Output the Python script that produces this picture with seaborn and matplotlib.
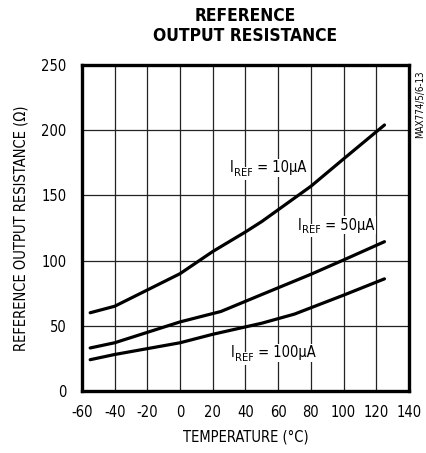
import pandas as pd
import seaborn as sns
import matplotlib.pyplot as plt
from matplotlib import font_manager

# valores
temp_10 = [-55, -40, 0, 20, 40, 50, 70, 80, 100, 125]
res_10 = [60, 65, 90, 107, 122, 130, 148, 157, 178, 204]
temp_50 = [-55, -40, 0, 25, 50, 80, 100, 125]
res_50 = [33, 37, 53, 61, 74, 89.5, 100.5, 114.5]
temp_100 = [-55, -40, 0, 20, 50, 70, 100, 125]
res_100 = [24, 28, 37, 43.5, 52, 59, 73.5, 86]
x_ticks = [-60, -40, -20, 0, 20, 40, 60, 80, 100, 120, 140]
y_ticks = [0, 50, 100, 150, 200, 250]
rotulos = ['10µA', '50µA', '100µA']

df = pd.concat([
    pd.DataFrame({'T': temp_10, 'R': res_10, 'curva': rotulos[0]}),
    pd.DataFrame({'T': temp_50, 'R': res_50, 'curva': rotulos[1]}),
    pd.DataFrame({'T': temp_100, 'R': res_100, 'curva': rotulos[2]}),
])

sns.set_style('white')

# fonte estreita, se houver
fl = font_manager.fontManager.ttflist
if any(f.name == 'Liberation Sans Narrow' for f in fl):
    fam, stretch = 'Liberation Sans Narrow', 'normal'
elif any(f.name == 'DejaVu Sans' and f.stretch == 'condensed' for f in fl):
    fam, stretch = 'DejaVu Sans', 'condensed'
else:
    fam, stretch = 'DejaVu Sans', 'normal'
plt.rcParams['font.family'] = [fam]
plt.rcParams['font.stretch'] = stretch
plt.rcParams['axes.unicode_minus'] = False
plt.rcParams['text.color'] = 'black'
plt.rcParams['axes.labelcolor'] = 'black'
plt.rcParams['xtick.color'] = 'black'
plt.rcParams['ytick.color'] = 'black'

fig = plt.figure(figsize=(4.27, 4.53), dpi=100)
ax = fig.add_axes([82 / 427, 1 - 391 / 453, 327 / 427, 326 / 453])

for c in rotulos:
    sns.lineplot(data=df[df['curva'] == c], x='T', y='R', color='black',
                 linewidth=2.3, sort=False, ax=ax)

ax.set_xlim(-60, 140)
ax.set_ylim(0, 250)
ax.set_xticks(x_ticks)
ax.set_yticks(y_ticks)
ax.grid(True, color='#222222', linewidth=0.9)
ax.tick_params(length=0, labelsize=10.5)
ax.tick_params(axis='x', pad=10)
ax.tick_params(axis='y', pad=11)
for s in ax.spines.values():
    s.set_linewidth(2.4)
    s.set_color('black')

ax.set_xlabel('TEMPERATURE (°C)', fontsize=10.5, labelpad=7)
ax.set_ylabel('REFERENCE OUTPUT RESISTANCE (Ω)', fontsize=10.5, labelpad=9)
fig.text(245.5 / 427, 1 - 26 / 453, 'REFERENCE\nOUTPUT RESISTANCE', ha='center',
         va='center', fontsize=12.5, fontweight='bold', linespacing=1.1)
fig.text(420 / 427, 1 - 104 / 453, 'MAX774/5/6-13', rotation=90, ha='center',
         va='center', fontsize=7)


def rotulo(x, y, txt):
    box = dict(facecolor='white', edgecolor='none', pad=1)
    t1 = ax.text(x, y, 'I', va='baseline', ha='left', fontsize=10.5, bbox=box)
    t2 = ax.annotate('REF', xy=(1, 0), xycoords=t1, xytext=(0.3, -2),
                     textcoords='offset points', va='bottom', ha='left',
                     fontsize=8, bbox=box)
    ax.annotate(' = ' + txt, xy=(1, 0), xycoords=(t2, t1), va='bottom',
                ha='left', fontsize=10.5, bbox=box)


rotulo(30.5, 167.6, rotulos[0])
rotulo(72.1, 123.8, rotulos[1])
rotulo(31.1, 25.7, rotulos[2])

plt.savefig('out.png', dpi=100)
plt.close()
